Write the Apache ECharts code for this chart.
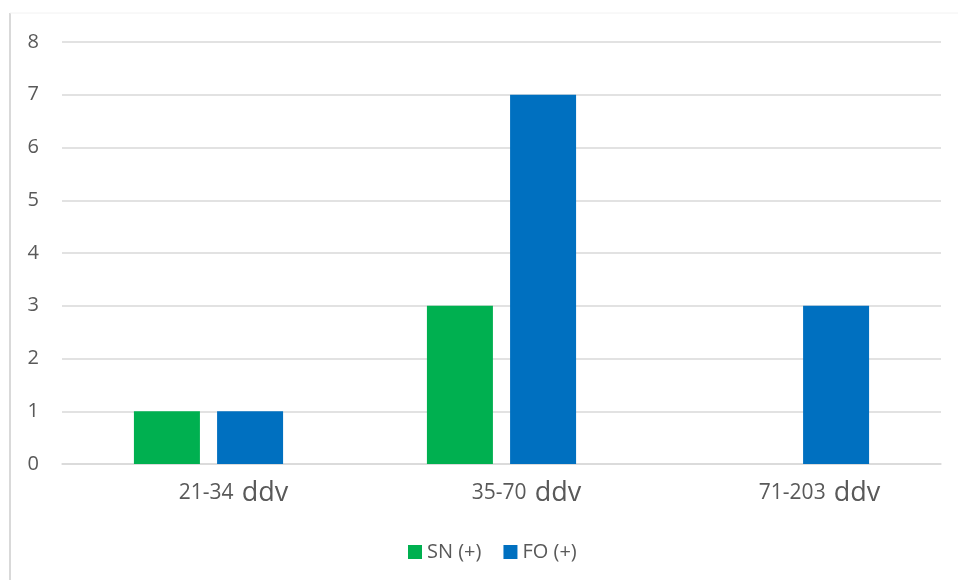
<!DOCTYPE html>
<html>
<head>
<meta charset="utf-8">
<script src="https://cdn.jsdelivr.net/npm/echarts@6/dist/echarts.min.js"></script>
<style>
  html, body { margin: 0; padding: 0; background: #ffffff; }
  #chart { width: 958px; height: 580px; }
</style>
</head>
<body>
<div id="chart"></div>
<script>
// Age ranges and the two ddv parts of each label
const rangeLabels = ['21-34', '35-70', '71-203'];
const unitLabel = 'ddv';
const seriesNames = ['SN (+)', 'FO (+)'];
const snValues = [1, 3, 0];
const foValues = [1, 7, 3];
const yTicks = [0, 1, 2, 3, 4, 5, 6, 7, 8];

const categories = rangeLabels.map(r => r + ' ' + unitLabel);
const textColor = '#595959';
const font = '"Open Sans", "Noto Sans", sans-serif';

const chart = echarts.init(document.getElementById('chart'), null, { renderer: 'canvas' });

chart.setOption({
  animation: false,
  backgroundColor: '#ffffff',
  textStyle: { fontFamily: font, color: textColor },
  graphic: [
    { type: 'line', shape: { x1: 10, y1: 13, x2: 10, y2: 580 }, style: { stroke: '#d9d9d9', lineWidth: 2 } },
    { type: 'line', shape: { x1: 10, y1: 13, x2: 958, y2: 13 }, style: { stroke: '#f2f2f2', lineWidth: 1 } }
  ],
  grid: { left: 62, right: 17, top: 42, bottom: 116 },
  legend: {
    left: 403,
    top: 537,
    itemWidth: 14,
    itemHeight: 14,
    itemGap: 22,
    icon: 'rect',
    textStyle: { fontFamily: font, fontSize: 20, color: textColor },
    data: seriesNames
  },
  xAxis: {
    type: 'category',
    data: categories,
    axisLine: { show: true, lineStyle: { color: '#d9d9d9', width: 1.5 } },
    axisTick: { show: false },
    axisLabel: {
      margin: 16,
      padding: [0, 0, 0, 50],
      formatter: function (v) {
        const i = v.lastIndexOf(' ');
        return '{a|' + v.slice(0, i) + '}{b|' + v.slice(i + 1) + '}';
      },
      rich: {
        a: { fontFamily: font, fontSize: 21, color: textColor },
        b: { fontFamily: font, fontSize: 27, color: textColor, padding: [0, 0, 0, 8] }
      }
    }
  },
  yAxis: {
    type: 'value',
    min: yTicks[0],
    max: yTicks[yTicks.length - 1],
    interval: 1,
    axisLine: { show: false },
    axisTick: { show: false },
    splitLine: { lineStyle: { color: '#d9d9d9', width: 1.5 } },
    axisLabel: { margin: 23, fontFamily: font, fontSize: 20, color: textColor }
  },
  series: [
    {
      name: seriesNames[0],
      type: 'bar',
      data: snValues,
      barWidth: 66,
      barGap: '26%',
      itemStyle: { color: '#00b050' }
    },
    {
      name: seriesNames[1],
      type: 'bar',
      data: foValues,
      barWidth: 66,
      barGap: '26%',
      itemStyle: { color: '#0070c0' }
    }
  ]
});
</script>
</body>
</html>
